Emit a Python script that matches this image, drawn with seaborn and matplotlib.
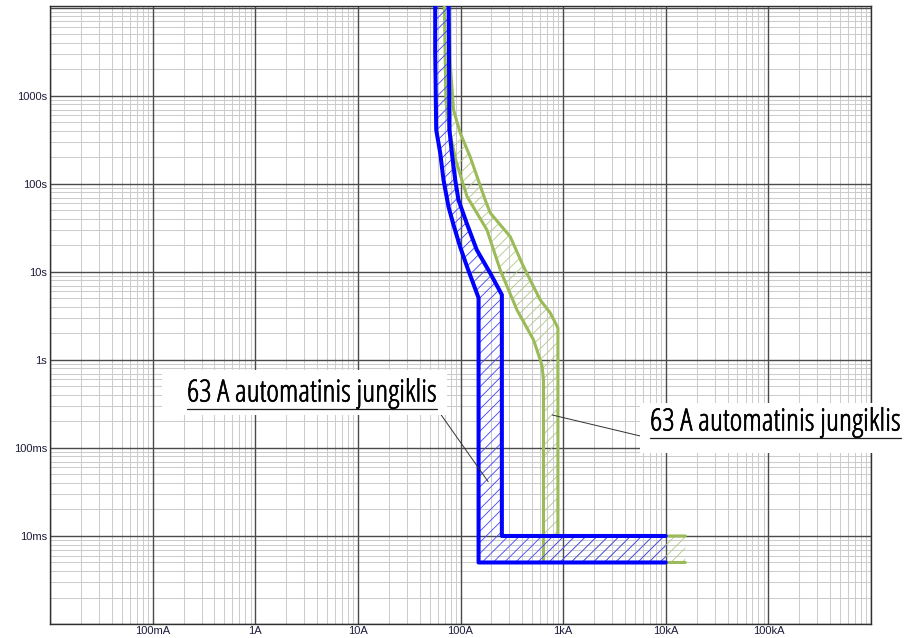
#%% imports
import numpy as np
import matplotlib
matplotlib.use('Agg')
import matplotlib.pyplot as plt
import matplotlib.ticker as ticker
import matplotlib.patheffects as pe
import seaborn as sns
from matplotlib import font_manager
from matplotlib.patches import Rectangle
from matplotlib.lines import Line2D

#%% style
sns.set_theme(style='white')
plt.rcParams['font.family'] = ['Liberation Sans', 'DejaVu Sans']
plt.rcParams['hatch.linewidth'] = 0.6

colors = {
  'blue': '#0000ff',
  'blue_hatch': '#4040ff',
  'green': '#9bbb59',
  'green_hatch': '#b0c885',
  'grid_major': '#4a4a4a',
  'grid_minor': '#cccccc',
  'label': '#1c1c3c',
}

#%% data (current in A, time in s)
blue_min_I = [56.7, 56.7, 58, 63.4, 68.3, 76.4, 85.5, 99.3, 116, 150, 150, 10000]
blue_min_t = [2e4, 3080, 411, 225, 111, 55, 34.2, 19.2, 11.4, 5.07, 0.005, 0.005]
blue_max_I = [76.4, 78, 82.4, 88.8, 95.5, 115, 144, 195, 253, 253, 10000]
blue_max_t = [2e4, 411, 223, 111, 65.8, 35.7, 17.8, 9.66, 5.5, 0.01, 0.01]

green_min_I = [69, 72, 77.6, 90, 103, 116, 181, 244, 355, 515, 621, 644, 644, 15500]
green_min_t = [2e4, 900, 411, 187, 111, 71.7, 30, 10.5, 3.7, 1.69, 0.877, 0.593, 0.005, 0.005]
green_max_I = [76, 79, 85.5, 99.3, 124, 174, 195, 305, 411, 598, 749, 890, 890, 15500]
green_max_t = [2e4, 2565, 693, 380, 204, 65.8, 46.8, 25.2, 11.5, 4.81, 3.42, 2.31, 0.01, 0.01]

x_tick_labels = {-1: '100mA', 0: '1A', 1: '10A', 2: '100A', 3: '1kA', 4: '10kA', 5: '100kA'}
y_tick_labels = {-2: '10ms', -1: '100ms', 0: '1s', 1: '10s', 2: '100s', 3: '1000s'}

label_text = '63 A automatinis jungiklis'
blue_label_target = (186, 0.0414)
green_label_target = (783, 0.237)

#%% figure
W, H = 905, 638
fig = plt.figure(figsize=(W / 100, H / 100), dpi=100)
ax = fig.add_axes([50 / W, 14 / H, 821 / W, 618 / H])
ax.set_xscale('log')
ax.set_yscale('log')
ax.set_xlim(1e-2, 1e6)
ax.set_ylim(1e-3, 1.05e4)

# hatched bands
ax.fill(np.r_[green_min_I, green_max_I[::-1]], np.r_[green_min_t, green_max_t[::-1]],
        facecolor='none', edgecolor=colors['green_hatch'], hatch='///', lw=0, zorder=2)
ax.fill(np.r_[blue_min_I, blue_max_I[::-1]], np.r_[blue_min_t, blue_max_t[::-1]],
        facecolor='none', edgecolor=colors['blue_hatch'], hatch='///', lw=0, zorder=4)

# band edges
for xs, ys in [(green_min_I, green_min_t), (green_max_I, green_max_t)]:
  sns.lineplot(x=xs, y=ys, sort=False, estimator=None, color=colors['green'],
               linewidth=2.2, ax=ax, zorder=3, solid_joinstyle='round')
for xs, ys in [(blue_min_I, blue_min_t), (blue_max_I, blue_max_t)]:
  sns.lineplot(x=xs, y=ys, sort=False, estimator=None, color=colors['blue'],
               linewidth=2.9, ax=ax, zorder=5, solid_joinstyle='round')

#%% grid and ticks
ax.xaxis.set_major_locator(ticker.LogLocator(base=10, numticks=20))
ax.yaxis.set_major_locator(ticker.LogLocator(base=10, numticks=20))
ax.xaxis.set_minor_locator(ticker.LogLocator(base=10, subs=np.arange(2, 10), numticks=200))
ax.yaxis.set_minor_locator(ticker.LogLocator(base=10, subs=np.arange(2, 10), numticks=200))
ax.xaxis.set_major_formatter(ticker.FuncFormatter(
  lambda v, pos: x_tick_labels.get(int(round(np.log10(v))), '')))
ax.yaxis.set_major_formatter(ticker.FuncFormatter(
  lambda v, pos: y_tick_labels.get(int(round(np.log10(v))), '')))
ax.xaxis.set_minor_formatter(ticker.NullFormatter())
ax.yaxis.set_minor_formatter(ticker.NullFormatter())
ax.set_axisbelow(True)
ax.grid(which='minor', color=colors['grid_minor'], lw=0.75)
# decade lines drawn above the minor grid so they stay unbroken
for e in range(-2, 7):
  ax.axvline(10.0 ** e, color=colors['grid_major'], lw=1.0, zorder=1)
for e in range(-3, 5):
  ax.axhline(10.0 ** e, color=colors['grid_major'], lw=1.0, zorder=1)
ax.tick_params(which='both', length=0)
ax.tick_params(axis='x', pad=1.5, labelsize=8, labelcolor=colors['label'])
ax.tick_params(axis='y', pad=2, labelsize=8, labelcolor=colors['label'])
ax.set_xlabel('')
ax.set_ylabel('')
for s in ax.spines.values():
  s.set_color('#303030')
  s.set_linewidth(1.0)

#%% callouts
renderer = fig.canvas.get_renderer()
allowed = ('Liberation', 'DejaVu', 'Noto Sans', 'Roboto', 'Open Sans', 'Lato', 'Inter')

def weight_num(w):
  if isinstance(w, str):
    return font_manager.weight_dict.get(w, 400)
  return w

def has_glyphs(fname):
  try:
    cmap = font_manager.get_font(fname).get_charmap()
  except Exception:
    return False
  return all(ord(c) in cmap for c in set(label_text) if c != ' ')

def pick_narrow():
  # narrowest upright font of roughly regular weight, measured on the label itself
  best, best_w = None, None
  seen = set()
  for f in font_manager.fontManager.ttflist:
    if f.fname in seen or f.style != 'normal':
      continue
    seen.add(f.fname)
    if not f.name.startswith(allowed):
      continue
    if any(k in f.name for k in ('CJK', 'Mono', 'Math', 'Symbols')):
      continue
    if not (300 <= weight_num(f.weight) <= 500):
      continue
    if not has_glyphs(f.fname):
      continue
    fp = font_manager.FontProperties(fname=f.fname, size=20)
    t = fig.text(0, 0, label_text, fontproperties=fp)
    try:
      w = t.get_window_extent(renderer).width
    except Exception:
      w = None
    t.remove()
    if w and (best_w is None or w < best_w):
      best, best_w = f.fname, w
  if best is None:
    return dict(family='DejaVu Sans')
  return dict(fontproperties=font_manager.FontProperties(fname=best))

narrow = pick_narrow()

def fx(px):
  return px / W

def fy(py):
  return 1 - py / H

def callout(box, text_left, baseline, underline_y, width, target):
  x0, y0, x1, y1 = box
  fig.add_artist(Rectangle((fx(x0), fy(y1)), fx(x1 - x0), (y1 - y0) / H,
                           transform=fig.transFigure, facecolor='white',
                           edgecolor='none', zorder=6))
  t = fig.text(fx(text_left), fy(baseline), label_text, color='black',
               ha='left', va='baseline', zorder=7, **narrow)
  t.set_fontsize(20)
  w = t.get_window_extent(renderer).width
  t.set_fontsize(20 * width / w)
  t.set_path_effects([pe.withStroke(linewidth=0.45, foreground='black')])
  fig.add_artist(Line2D([fx(text_left), fx(text_left + width)], [fy(underline_y)] * 2,
                        transform=fig.transFigure, color='#202020', lw=0.9, zorder=7))
  end_x = text_left + width if target[0] < 300 else text_left
  ax.annotate('', xy=target, xycoords='data',
              xytext=(fx(end_x), fy(underline_y)), textcoords='figure fraction',
              arrowprops=dict(arrowstyle='-', color='#303030', lw=0.7,
                              shrinkA=0, shrinkB=0), zorder=6)

callout((162, 370, 447, 415), 187, 401.5, 409, 250, blue_label_target)
callout((640, 403, 905, 453), 650, 430.5, 438.3, 251, green_label_target)

fig.savefig('out.png', dpi=100)
